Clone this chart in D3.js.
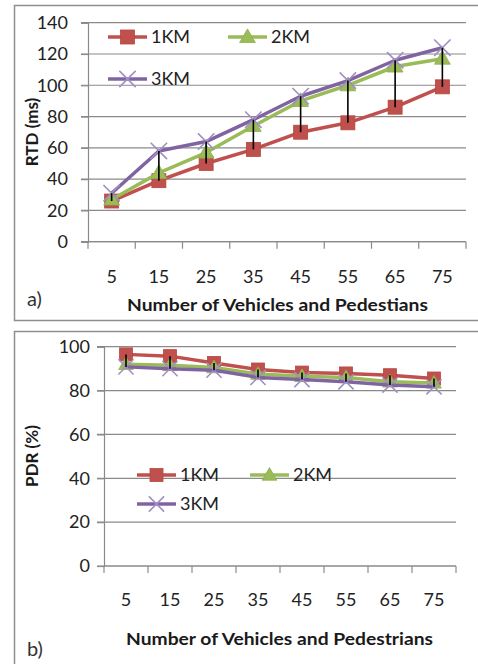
<!DOCTYPE html>
<html>
<head>
<meta charset="utf-8">
<script src="https://cdn.jsdelivr.net/npm/d3@7"></script>
<style>
  html, body { margin: 0; padding: 0; background: #fff; }
  svg { display: block; }
</style>
</head>
<body>
<script>
// ---------- data ----------
const categories = ["5", "15", "25", "35", "45", "55", "65", "75"];
const seriesNames = ["1KM", "2KM", "3KM"];
const rtd1KM = [26, 39, 50, 59, 70, 76, 86, 99];
const rtd2KM = [27, 44, 57, 74, 90, 100, 112, 117];
const rtd3KM = [31, 58, 64, 78, 93, 103, 116, 124];
const pdr1KM = [96.5, 95.7, 92.6, 89.6, 88.2, 87.8, 87, 85.5];
const pdr2KM = [92, 91.5, 90.5, 87.5, 86.5, 86, 84, 83.5];
const pdr3KM = [90.8, 90, 89.3, 86, 85, 84, 82.5, 81.7];
const rtdTicks = [0, 20, 40, 60, 80, 100, 120, 140];
const pdrTicks = [0, 20, 40, 60, 80, 100];

// ---------- styles ----------
const colors = ["#C0504D", "#9BBB59", "#8064A2"];
const markerStroke = ["#B5473F", "#8FAE4F", "#A08FC4"];
const FONT = "Lato, 'Liberation Sans', Arial, sans-serif";
const W = 478, H = 664;

const svg = d3.select("body").append("svg").attr("width", W).attr("height", H);
svg.append("rect").attr("width", W).attr("height", H).attr("fill", "#fff");

function marker(g, i, x, y, s) {
  if (i === 0) {
    g.append("rect").attr("x", x - s / 2).attr("y", y - s / 2).attr("width", s).attr("height", s)
      .attr("fill", colors[0]).attr("stroke", markerStroke[0]).attr("stroke-width", 0.8);
  } else if (i === 1) {
    g.append("path").attr("transform", `translate(${x},${y + 1})`)
      .attr("d", d3.symbol(d3.symbolTriangle, s * s * 0.55)())
      .attr("fill", colors[1]).attr("stroke", markerStroke[1]).attr("stroke-width", 0.8);
  } else {
    g.append("path").attr("transform", `translate(${x},${y})`)
      .attr("d", d3.symbol(d3.symbolTimes, s * s * 0.9)())
      .attr("fill", "none").attr("stroke", markerStroke[2]).attr("stroke-width", 1.6);
  }
}

function panel(cfg) {
  const g = svg.append("g");
  // frame
  g.append("rect").attr("x", cfg.frame[0]).attr("y", cfg.frame[1])
    .attr("width", cfg.frame[2]).attr("height", cfg.frame[3])
    .attr("fill", "none").attr("stroke", "#8f8f8f").attr("stroke-width", 1.5);

  const x = d3.scaleBand().domain(categories).range([cfg.x0, cfg.x1]).padding(0);
  const y = d3.scaleLinear().domain([0, d3.max(cfg.ticks)]).range([cfg.yb, cfg.yt]);

  // gridlines
  g.append("g").selectAll("line").data(cfg.ticks).join("line")
    .attr("x1", cfg.x0 - 7).attr("x2", cfg.x1)
    .attr("y1", d => y(d)).attr("y2", d => y(d))
    .attr("stroke", "#8a8a8a").attr("stroke-width", 1.2);

  // y axis
  const ya = g.append("g").attr("transform", `translate(${cfg.x0},0)`)
    .call(d3.axisLeft(y).tickValues(cfg.ticks).tickSize(7).tickPadding(cfg.yLabelPad));
  ya.select(".domain").attr("stroke", "#8a8a8a").attr("stroke-width", 1.2);
  ya.selectAll(".tick line").attr("stroke", "#8a8a8a").attr("stroke-width", 1.2);
  ya.selectAll(".tick text").attr("font-family", FONT).attr("font-size", cfg.tickFont)
    .attr("fill", "#222");

  // x axis with ticks between categories
  const xa = g.append("g").attr("transform", `translate(0,${cfg.yb})`);
  xa.append("line").attr("x1", cfg.x0).attr("x2", cfg.x1).attr("stroke", "#8a8a8a").attr("stroke-width", 1.2);
  const bounds = categories.map(c => x(c)).concat([x(categories[categories.length - 1]) + x.bandwidth()]);
  xa.selectAll("line.t").data(bounds).join("line").attr("class", "t")
    .attr("x1", d => d).attr("x2", d => d).attr("y1", 0).attr("y2", 7)
    .attr("stroke", "#8a8a8a").attr("stroke-width", 1.2);
  xa.selectAll("text").data(categories).join("text")
    .attr("x", d => x(d) + x.bandwidth() / 2).attr("y", cfg.xLabelY - cfg.yb)
    .attr("text-anchor", "middle").attr("font-family", FONT).attr("font-size", cfg.tickFont)
    .attr("fill", "#222").text(d => d);

  // lines
  const cx = c => x(c) + x.bandwidth() / 2;
  cfg.data.forEach((vals, i) => {
    const line = d3.line().x((d, j) => cx(categories[j])).y(d => y(d));
    g.append("path").attr("d", line(vals)).attr("fill", "none")
      .attr("stroke", colors[i]).attr("stroke-width", cfg.lw).attr("stroke-linejoin", "round");
    const mg = g.append("g");
    vals.forEach((v, j) => marker(mg, i, cx(categories[j]), y(v), cfg.ms));
  });

  // high-low lines
  g.append("g").selectAll("line").data(categories).join("line")
    .attr("x1", cx).attr("x2", cx)
    .attr("y1", (c, j) => y(d3.max(cfg.data, s => s[j])))
    .attr("y2", (c, j) => y(d3.min(cfg.data, s => s[j])))
    .attr("stroke", "#000").attr("stroke-width", 1.6);

  // legend
  cfg.legend.forEach((p, i) => {
    const lg = g.append("g");
    lg.append("line").attr("x1", p[0]).attr("x2", p[0] + cfg.legLen).attr("y1", p[1]).attr("y2", p[1])
      .attr("stroke", colors[i]).attr("stroke-width", cfg.lw);
    marker(lg, i, p[0] + cfg.legLen / 2, p[1], cfg.ms);
    lg.append("text").attr("x", p[0] + cfg.legLen + 4).attr("y", p[1]).attr("dy", "0.35em")
      .attr("font-family", FONT).attr("font-size", cfg.legFont).attr("fill", "#222")
      .text(seriesNames[i]);
  });

  // axis titles
  g.append("text").attr("x", cfg.xTitle[0]).attr("y", cfg.xTitle[1])
    .attr("font-family", FONT).attr("font-size", 17).attr("font-weight", "bold").attr("fill", "#1a1a1a")
    .attr("textLength", cfg.xTitle[2]).attr("lengthAdjust", "spacingAndGlyphs")
    .text(cfg.xTitleText);
  g.append("text").attr("transform", `translate(${cfg.yTitle[0]},${cfg.yTitle[1]}) rotate(-90)`)
    .attr("text-anchor", "middle")
    .attr("font-family", FONT).attr("font-size", 17).attr("font-weight", "bold").attr("fill", "#1a1a1a")
    .text(cfg.yTitleText);
  g.append("text").attr("x", cfg.tag[0]).attr("y", cfg.tag[1])
    .attr("font-family", FONT).attr("font-size", 20).attr("fill", "#333")
    .text(cfg.tagText);
}

panel({
  frame: [14.5, 5.5, 480, 315],
  x0: 88, x1: 466, yt: 22.7, yb: 241.7,
  ticks: rtdTicks,
  data: [rtd1KM, rtd2KM, rtd3KM],
  tickFont: 18, yLabelPad: 13, xLabelY: 283,
  lw: 3.5, ms: 14,
  legend: [[108, 37], [228, 37], [108, 79]], legLen: 39, legFont: 18,
  xTitle: [127, 311, 301], xTitleText: "Number of Vehicles and Pedestians",
  yTitle: [38, 132], yTitleText: "RTD (ms)",
  tag: [27, 306], tagText: "a)"
});

panel({
  frame: [14.5, 331.5, 480, 360],
  x0: 104, x1: 456, yt: 346.7, yb: 566,
  ticks: pdrTicks,
  data: [pdr1KM, pdr2KM, pdr3KM],
  tickFont: 18, yLabelPad: 7, xLabelY: 606,
  lw: 3.5, ms: 13,
  legend: [[137, 475], [250, 475], [137, 504]], legLen: 39, legFont: 18,
  xTitle: [126, 645, 307], xTitleText: "Number of Vehicles and Pedestrians",
  yTitle: [38, 456], yTitleText: "PDR (%)",
  tag: [27, 656], tagText: "b)"
});
</script>
</body>
</html>
